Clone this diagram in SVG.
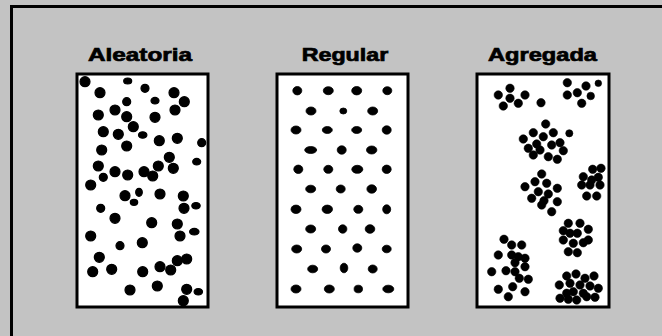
<svg xmlns="http://www.w3.org/2000/svg" width="662" height="336" viewBox="0 0 662 336">
<style>
.bg{fill:#c3c3c3}
.frame{fill:none;stroke:#000;stroke-width:3}
.panel{fill:#fff;stroke:#000;stroke-width:3}
.t{font-family:"Liberation Sans",Arial,sans-serif;font-weight:bold;font-size:19px;fill:#000;stroke:#000;stroke-width:0.7;text-anchor:start}
circle,ellipse{fill:#000;stroke:#000}
.d1 circle,.d1 ellipse{stroke-width:1.2}
.d2 ellipse{stroke-width:0.8}
.d3 circle{stroke-width:0.6}
</style>
<rect class="bg" x="0" y="0" width="662" height="336"/>
<rect class="frame" x="11.5" y="6.5" width="660" height="340"/>

<g id="aleatoria">
<text class="t" x="88" y="61" textLength="104" lengthAdjust="spacingAndGlyphs">Aleatoria</text>
<rect class="panel" x="77" y="74" width="131" height="233"/>
<g class="d1">
<circle cx="85" cy="81.7" r="5"/><ellipse cx="127.7" cy="81" rx="4" ry="3"/><circle cx="145" cy="88.3" r="4"/>
<circle cx="174" cy="92.7" r="5"/><circle cx="100" cy="92.7" r="5"/><circle cx="184.3" cy="101.7" r="5"/>
<circle cx="126.7" cy="101.7" r="4"/><ellipse cx="155" cy="100.7" rx="4" ry="3.3"/><circle cx="115" cy="110" r="5"/>
<circle cx="98.3" cy="115" r="5"/><circle cx="126.7" cy="116.7" r="5"/><circle cx="155" cy="117.3" r="5"/>
<circle cx="175" cy="110" r="5"/><circle cx="133.3" cy="126.7" r="5"/><circle cx="103.3" cy="131.7" r="5"/>
<circle cx="118.3" cy="134.3" r="5"/><ellipse cx="142.7" cy="135" rx="4.2" ry="3.2"/><circle cx="159.3" cy="140.7" r="5"/>
<circle cx="177.3" cy="138.3" r="5"/><circle cx="201.7" cy="142.7" r="4"/><circle cx="126.7" cy="146" r="5"/>
<circle cx="101.7" cy="150" r="5"/><circle cx="169.3" cy="157.3" r="5"/><circle cx="158.3" cy="166" r="5"/>
<circle cx="173.3" cy="168.3" r="5"/><ellipse cx="196.7" cy="161.7" rx="4" ry="3.3"/><circle cx="98.3" cy="166" r="5"/>
<circle cx="115" cy="171.7" r="5"/><circle cx="103.3" cy="177.3" r="4"/><circle cx="127.7" cy="175" r="5"/>
<circle cx="144" cy="171.7" r="5"/><circle cx="152.7" cy="176" r="5"/><circle cx="90.7" cy="185" r="5"/>
<circle cx="125" cy="195.7" r="5"/><ellipse cx="139" cy="192.3" rx="3.3" ry="4"/><ellipse cx="134" cy="202.3" rx="3.7" ry="3"/>
<circle cx="160" cy="194" r="5"/><circle cx="183.3" cy="196" r="5"/><circle cx="184" cy="208.3" r="5"/>
<ellipse cx="196" cy="205.7" rx="4.2" ry="3.2"/><circle cx="100.7" cy="208.3" r="4"/><circle cx="115" cy="218.3" r="5"/>
<circle cx="151.7" cy="222.7" r="5"/><circle cx="177.3" cy="224" r="5"/><circle cx="180" cy="236" r="5"/>
<ellipse cx="194.3" cy="231.7" rx="4.7" ry="3.3"/><circle cx="90.7" cy="236" r="5"/><circle cx="120" cy="245.7" r="4"/>
<circle cx="142.3" cy="242.7" r="5"/><circle cx="99.3" cy="257.3" r="5"/><circle cx="177.3" cy="260.7" r="5"/>
<circle cx="186.7" cy="259" r="5"/><circle cx="92.7" cy="271.7" r="5"/><circle cx="111.7" cy="269.3" r="5"/>
<circle cx="142.7" cy="271.7" r="5"/><circle cx="160" cy="266.7" r="5"/><circle cx="170.7" cy="270" r="5"/>
<circle cx="130" cy="290" r="5"/><circle cx="157.3" cy="286" r="5"/><circle cx="186.7" cy="289.3" r="5"/>
<ellipse cx="198.3" cy="291.7" rx="4.2" ry="3.2"/><circle cx="183.3" cy="300.7" r="5"/>
</g>
</g>

<g id="regular">
<text class="t" x="301.7" y="61" textLength="86.6" lengthAdjust="spacingAndGlyphs">Regular</text>
<rect class="panel" x="277" y="74" width="131" height="233"/>
<g class="d2">
<ellipse cx="297.3" cy="90.7" rx="4.5" ry="4.2"/><ellipse cx="328.3" cy="90.7" rx="5" ry="4"/><ellipse cx="356.7" cy="90.7" rx="5" ry="4.2"/><ellipse cx="387.3" cy="90.7" rx="4.5" ry="4"/>
<ellipse cx="311" cy="111" rx="5" ry="4"/><ellipse cx="343.3" cy="111" rx="3.5" ry="3"/><ellipse cx="372.7" cy="111" rx="5" ry="4"/>
<ellipse cx="296" cy="130" rx="5" ry="4"/><ellipse cx="327.3" cy="130" rx="5" ry="3.5"/><ellipse cx="356.7" cy="130" rx="5" ry="3.5"/><ellipse cx="386.7" cy="130" rx="4.5" ry="4.2"/>
<ellipse cx="310.7" cy="150" rx="6" ry="3.5"/><ellipse cx="341.7" cy="150" rx="4.5" ry="4.2"/><ellipse cx="371.7" cy="150" rx="5.2" ry="4"/>
<ellipse cx="298.3" cy="169.3" rx="4.5" ry="4.2"/><ellipse cx="328.3" cy="169.3" rx="4.5" ry="4"/><ellipse cx="357.3" cy="169.3" rx="5.5" ry="4"/><ellipse cx="386.7" cy="169.3" rx="4.5" ry="4.2"/>
<ellipse cx="310.7" cy="189" rx="5" ry="3.8"/><ellipse cx="340.7" cy="189" rx="4.5" ry="4"/><ellipse cx="371.7" cy="189" rx="4.8" ry="4.2"/>
<ellipse cx="296" cy="209.3" rx="5" ry="4.2"/><ellipse cx="327.3" cy="209.3" rx="5.2" ry="4.2"/><ellipse cx="358.3" cy="209.3" rx="4.5" ry="4"/><ellipse cx="386.7" cy="209.3" rx="4" ry="4.5"/>
<ellipse cx="310.7" cy="229" rx="5" ry="4"/><ellipse cx="342.7" cy="229" rx="4.2" ry="4.2"/><ellipse cx="370" cy="229" rx="4.8" ry="4.3"/>
<ellipse cx="296.7" cy="249" rx="5" ry="4"/><ellipse cx="326" cy="249" rx="4.5" ry="4"/><ellipse cx="357.3" cy="248" rx="4.5" ry="4.2"/><ellipse cx="386.7" cy="249" rx="4.5" ry="3.8"/>
<ellipse cx="312.7" cy="269" rx="5" ry="3.8"/><ellipse cx="344" cy="268" rx="3.8" ry="4.8"/><ellipse cx="372.7" cy="269" rx="4.5" ry="4"/>
<ellipse cx="296" cy="289" rx="5" ry="4"/><ellipse cx="329.3" cy="289" rx="5" ry="4"/><ellipse cx="358.3" cy="289" rx="4.2" ry="3.8"/><ellipse cx="388.3" cy="289" rx="5.5" ry="3.8"/>
</g>
</g>

<g id="agregada">
<text class="t" x="488" y="61" textLength="109" lengthAdjust="spacingAndGlyphs">Agregada</text>
<rect class="panel" x="477" y="74" width="132" height="233"/>
<g class="d3">
<circle cx="510" cy="88.3" r="4.2"/><circle cx="498.3" cy="95" r="4.2"/><circle cx="525" cy="95" r="4.2"/><circle cx="510" cy="98.3" r="4.2"/><circle cx="503.3" cy="106" r="4.2"/><circle cx="518.3" cy="103.3" r="4.2"/><circle cx="541" cy="102.7" r="4.2"/>
<circle cx="567.3" cy="82.7" r="4.2"/><circle cx="586" cy="86" r="4.2"/><circle cx="598.3" cy="83.3" r="3.3"/><circle cx="577.3" cy="92.7" r="4.2"/><circle cx="567.3" cy="95" r="4.2"/><circle cx="590.7" cy="96" r="3.8"/><circle cx="581.7" cy="103.3" r="4.2"/>
<circle cx="545.7" cy="124" r="4.2"/><circle cx="533.3" cy="132.7" r="4.2"/><circle cx="553.3" cy="132.7" r="4.2"/><circle cx="569.3" cy="133.3" r="3.6"/><circle cx="523.3" cy="139" r="4.2"/><circle cx="543.3" cy="136.7" r="4.2"/><circle cx="560" cy="142.7" r="4.2"/><circle cx="536.7" cy="144" r="4.2"/><circle cx="551.7" cy="145" r="4.2"/><circle cx="528.3" cy="148.3" r="4.2"/><circle cx="540" cy="150" r="4.2"/><circle cx="563.3" cy="150.7" r="4.2"/><circle cx="533.3" cy="155" r="4.2"/><circle cx="548.3" cy="156.7" r="4.2"/><circle cx="557.3" cy="159.3" r="4.2"/>
<circle cx="541.7" cy="174" r="4.2"/><circle cx="535" cy="181.7" r="4.2"/><circle cx="546.7" cy="183.3" r="4.2"/><circle cx="525" cy="186.7" r="4.2"/><circle cx="557.3" cy="188.3" r="4.2"/><circle cx="538.3" cy="191.7" r="4.2"/><circle cx="548.3" cy="194" r="4.2"/><circle cx="531.7" cy="198.3" r="4.2"/><circle cx="544" cy="200.7" r="4.2"/><circle cx="557.3" cy="201.7" r="4.2"/><circle cx="541.7" cy="205" r="4.2"/><circle cx="551.7" cy="211.7" r="4.2"/>
<circle cx="592.7" cy="169.3" r="4.2"/><circle cx="601" cy="168.3" r="4.2"/><circle cx="583.3" cy="176.7" r="4.2"/><circle cx="598.3" cy="177.3" r="4.2"/><circle cx="590" cy="185" r="4.2"/><circle cx="581.7" cy="185" r="4.2"/><circle cx="600" cy="185" r="4.2"/><circle cx="586.7" cy="196" r="4.2"/><circle cx="596.7" cy="196" r="4.2"/><circle cx="591.7" cy="180" r="4.2"/>
<circle cx="568.3" cy="223.3" r="4.2"/><circle cx="580" cy="223.3" r="4.2"/><circle cx="588.3" cy="229.3" r="4.2"/><circle cx="563.3" cy="230.7" r="4.2"/><circle cx="577.3" cy="233.3" r="4.2"/><circle cx="570" cy="233.3" r="4.2"/><circle cx="563.3" cy="240" r="4.2"/><circle cx="573.3" cy="243.3" r="4.2"/><circle cx="583.3" cy="242.7" r="4.2"/><circle cx="588.3" cy="240" r="4.2"/><circle cx="568.3" cy="251.7" r="4.2"/><circle cx="577.3" cy="252.7" r="4.2"/>
<circle cx="504" cy="239.3" r="4.2"/><circle cx="511.7" cy="245" r="4.2"/><circle cx="521.7" cy="245" r="4.2"/><circle cx="498.3" cy="255" r="4.2"/><circle cx="511.7" cy="255" r="4.2"/><circle cx="525" cy="258.3" r="4.2"/><circle cx="515" cy="262.7" r="4.2"/><circle cx="518.3" cy="256.7" r="4.2"/><circle cx="491.7" cy="271.7" r="4.2"/><circle cx="506" cy="270.7" r="4.2"/><circle cx="515" cy="271.7" r="4.2"/><circle cx="525" cy="266.7" r="4.2"/><circle cx="519.3" cy="278.3" r="4.2"/><circle cx="528.3" cy="279.3" r="4.2"/><circle cx="512.7" cy="286.7" r="4.2"/><circle cx="498.3" cy="289.3" r="4.2"/><circle cx="508.3" cy="296.7" r="4.2"/><circle cx="525" cy="291.7" r="4.2"/>
<circle cx="566.7" cy="276" r="4.2"/><circle cx="576" cy="274" r="4.2"/><circle cx="585" cy="278.3" r="4.2"/><circle cx="594" cy="276" r="4.2"/><circle cx="559.3" cy="285" r="4.2"/><circle cx="570" cy="283.3" r="4.2"/><circle cx="580" cy="285" r="4.2"/><circle cx="590" cy="286" r="4.2"/><circle cx="598.3" cy="288.3" r="4.2"/><circle cx="566.7" cy="293.3" r="4.2"/><circle cx="573.3" cy="291.7" r="4.2"/><circle cx="583.3" cy="293.3" r="4.2"/><circle cx="560" cy="298.3" r="4.2"/><circle cx="568.3" cy="299.3" r="4.2"/><circle cx="576.7" cy="300" r="4.2"/><circle cx="586.7" cy="296.7" r="4.2"/><circle cx="595" cy="297.3" r="4.2"/>
</g>
</g>
<g id="connectors"/>
</svg>
